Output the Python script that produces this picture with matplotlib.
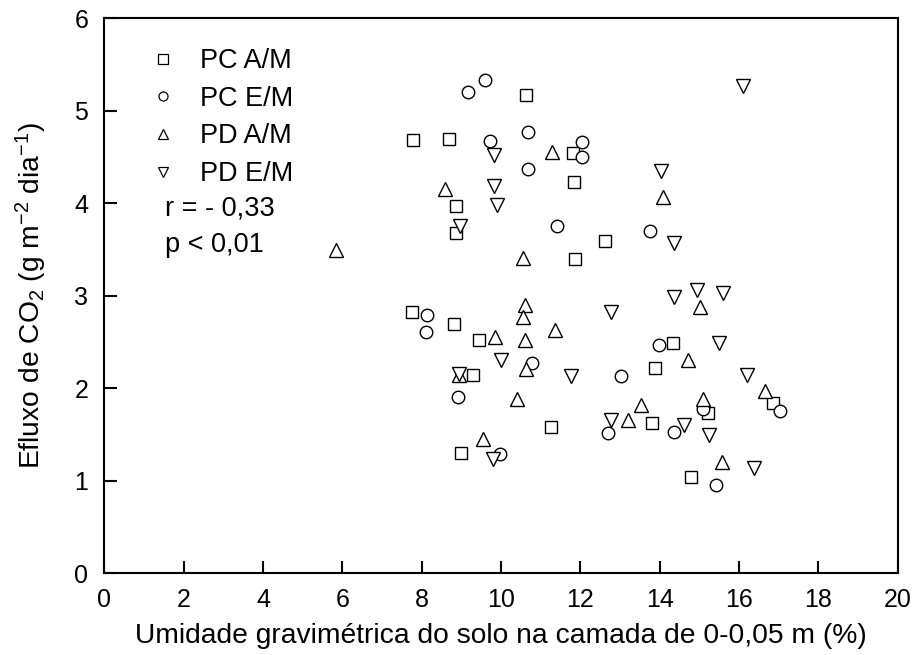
import matplotlib.pyplot as plt
from matplotlib.lines import Line2D

plt.rcParams['font.family'] = ['Liberation Sans', 'DejaVu Sans']
plt.rcParams['mathtext.fontset'] = 'custom'
plt.rcParams['mathtext.rm'] = 'Liberation Sans'
plt.rcParams['mathtext.it'] = 'Liberation Sans:italic'

# umidade (%) e efluxo de CO2 por tratamento
pc_am_x = [7.75, 7.77, 8.68, 8.86, 8.86, 8.81, 8.98, 9.45, 9.29, 10.64, 11.82,
           11.84, 12.62, 11.86, 11.25, 14.34, 13.88, 13.81, 15.23, 14.78, 16.85]
pc_am_y = [2.82, 4.68, 4.70, 3.97, 3.68, 2.70, 1.30, 2.52, 2.14, 5.17, 4.54,
           4.23, 3.59, 3.40, 1.585, 2.49, 2.22, 1.63, 1.73, 1.04, 1.84]

pc_em_x = [9.59, 9.18, 10.68, 9.71, 10.68, 11.40, 12.03, 12.03, 13.75, 8.13, 8.10,
           8.91, 10.79, 9.97, 13.02, 13.98, 12.69, 14.37, 15.08, 15.41, 17.03]
pc_em_y = [5.33, 5.20, 4.77, 4.67, 4.37, 3.75, 4.66, 4.50, 3.70, 2.79, 2.61,
           1.91, 2.27, 1.29, 2.13, 2.47, 1.52, 1.53, 1.78, 0.955, 1.75]

pd_am_x = [5.84, 8.60, 11.28, 10.55, 10.60, 10.55, 9.84, 10.60, 11.37, 10.62, 8.93,
           10.41, 9.54, 14.71, 13.52, 13.19, 15.08, 16.66, 15.56, 15.02, 14.08]
pd_am_y = [3.50, 4.16, 4.56, 3.41, 2.90, 2.77, 2.55, 2.52, 2.63, 2.21, 2.14,
           1.89, 1.45, 2.31, 1.82, 1.66, 1.88, 1.97, 1.20, 2.88, 4.07]

pd_em_x = [9.82, 9.82, 9.90, 8.97, 8.94, 10.01, 9.81, 16.11, 14.04, 14.36, 12.77,
           14.35, 14.95, 15.60, 15.49, 11.76, 16.21, 12.77, 14.62, 15.24, 16.39]
pd_em_y = [4.52, 4.19, 3.98, 3.75, 2.15, 2.31, 1.24, 5.27, 4.35, 3.57, 2.82,
           2.99, 3.06, 3.03, 2.49, 2.13, 2.14, 1.66, 1.60, 1.50, 1.14]

series = [
    ('PC A/M', pc_am_x, pc_am_y, 's', 9),
    ('PC E/M', pc_em_x, pc_em_y, 'o', 9),
    ('PD A/M', pd_am_x, pd_am_y, '^', 10),
    ('PD E/M', pd_em_x, pd_em_y, 'v', 10),
]

fig = plt.figure(figsize=(9.13, 6.55), dpi=100)
ax = fig.add_axes([0.1143, 0.1247, 0.8689, 0.8473])

handles = []
for label, xs, ys, mk, ms in series:
    ax.plot(xs, ys, linestyle='none', marker=mk, markersize=ms,
            markerfacecolor='white', markeredgecolor='black', markeredgewidth=1.0)
    handles.append(Line2D([], [], linestyle='none', marker=mk, markersize=6.5,
                          markerfacecolor='white', markeredgecolor='black',
                          markeredgewidth=0.9, label=label))

ax.set_xlim(0, 20)
ax.set_ylim(0, 6)
ax.set_xticks(range(0, 21, 2))
ax.set_yticks(range(0, 7))
ax.tick_params(direction='in', length=9, width=1.5, labelsize=18,
               top=False, right=False)
ax.tick_params(axis='x', pad=10.5)
ax.tick_params(axis='y', pad=11.5)
for sp in ax.spines.values():
    sp.set_linewidth(1.5)

ax.set_xlabel('Umidade gravimétrica do solo na camada de 0-0,05 m (%)',
              fontsize=20.3, labelpad=8)
ax.set_ylabel(r'Efluxo de CO$_2$ (g m$^{-2}$ dia$^{-1}$)', fontsize=20.3, labelpad=18)

leg = ax.legend(handles=handles, loc='upper left', bbox_to_anchor=(0.043, 0.966),
                frameon=False, fontsize=19.5, handlelength=1.0, handletextpad=0.87,
                labelspacing=0.43, borderaxespad=0.0)

ax.text(0.0765, 0.658, 'r = - 0,33', transform=ax.transAxes, fontsize=19.5,
        va='center', ha='left')
ax.text(0.0765, 0.5915, 'p < 0,01', transform=ax.transAxes, fontsize=19.5,
        va='center', ha='left')

fig.savefig('out.png', dpi=100)
